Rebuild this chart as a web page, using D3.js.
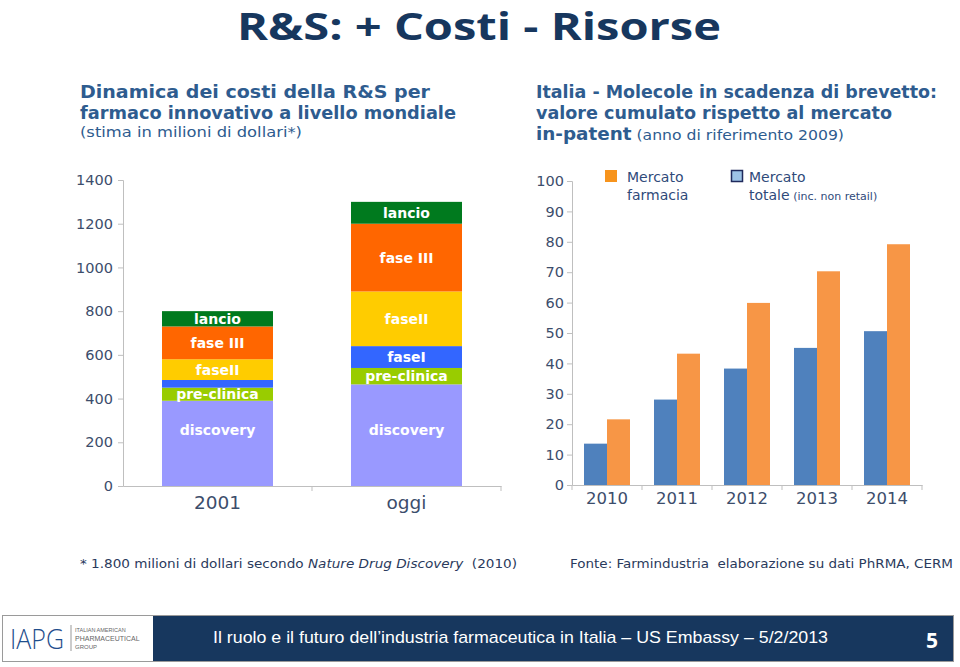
<!DOCTYPE html>
<html><head><meta charset="utf-8">
<script src="https://cdn.jsdelivr.net/npm/d3@7"></script>
<style>
html,body{margin:0;padding:0;background:#fff;}
svg{display:block;}
text{white-space:pre;}
</style></head>
<body>
<svg id="c" width="960" height="667"></svg>
<script>
// ---- data ----
const leftCategories = ["2001", "oggi"];
const phases = ["discovery", "pre-clinica", "faseI", "faseII", "fase III", "lancio"];
const phaseColors = ["#9999ff", "#99cc00", "#3366ff", "#ffcc00", "#ff6600", "#007a1e"];
const cost2001 = [390, 60, 35, 95, 150, 70];
const costOggi = [465, 75, 100, 250, 310, 100];
const leftTicks = [0, 200, 400, 600, 800, 1000, 1200, 1400];

const years = ["2010", "2011", "2012", "2013", "2014"];
const mercatoTotale = [13.6, 28.1, 38.3, 45.1, 50.6];
const mercatoFarmacia = [21.6, 43.2, 59.9, 70.3, 79.2];
const rightTicks = [0, 10, 20, 30, 40, 50, 60, 70, 80, 90, 100];

const svg = d3.select("#c");
const FONT = "'DejaVu Sans', Verdana, sans-serif";
const tickColor = "#3c4d6b";
const axisColor = "#bfbfbf";

// ---- title ----
svg.append("text").attr("x", 479).attr("y", 40).attr("text-anchor", "middle")
  .attr("font-family", "'Open Sans', sans-serif").attr("font-weight", 700)
  .attr("font-size", 38).attr("fill", "#17375e")
  .attr("textLength", 484).attr("lengthAdjust", "spacingAndGlyphs")
  .text("R&S: + Costi - Risorse");

// ---- subtitles ----
const subColor = "#2e5c8f";
function sub(x, y, parts, len) {
  const t = svg.append("text").attr("x", x).attr("y", y)
    .attr("font-family", FONT).attr("fill", subColor);
  parts.forEach(p => t.append("tspan").attr("font-size", p[1]).attr("font-weight", p[2]).text(p[0]));
  if (len) t.attr("textLength", len).attr("lengthAdjust", "spacingAndGlyphs");
}
sub(80, 98, [["Dinamica dei costi della R&S per", 17, 600]], 350);
sub(80, 119, [["farmaco innovativo a livello mondiale", 17, 600]], 376);
sub(80, 137, [["(stima in milioni di dollari*)", 14.5, 400]], 222);
sub(536, 98, [["Italia - Molecole in scadenza di brevetto:", 17, 600]], 401);
sub(536, 119, [["valore cumulato rispetto al mercato", 17, 600]], 356);
sub(536, 140, [["in-patent", 17, 600], [" (anno di riferimento 2009)", 14.5, 400]], 308);

// ---- left chart ----
const yL = d3.scaleLinear().domain([0, 1400]).range([486, 180]);
const xL = d3.scaleBand().domain(leftCategories).range([123, 501]).paddingInner(0).paddingOuter(0);
const barW = 111;

const gL = svg.append("g");
const yAxisL = d3.axisLeft(yL).tickValues(leftTicks).tickSize(5).tickFormat(d3.format("d"));
const gyL = gL.append("g").attr("transform", "translate(123,0)").call(yAxisL);
gyL.select(".domain").attr("stroke", axisColor);
gyL.selectAll(".tick line").attr("stroke", axisColor);
gyL.selectAll(".tick text").attr("font-family", FONT).attr("font-size", 14.5).attr("fill", tickColor).attr("x", -10);

const stacks = [cost2001, costOggi];
stacks.forEach((vals, i) => {
  const cx = xL(leftCategories[i]) + xL.bandwidth() / 2;
  let acc = 0;
  vals.forEach((v, j) => {
    const y0 = yL(acc), y1 = yL(acc + v);
    gL.append("rect").attr("x", cx - barW / 2).attr("width", barW)
      .attr("y", y1).attr("height", y0 - y1).attr("fill", phaseColors[j]);
    if (v >= 50) {
      const ly = j === 0 ? yL(255) : (y0 + y1) / 2;
      gL.append("text").attr("x", cx).attr("y", ly).attr("dy", "0.36em")
        .attr("text-anchor", "middle").attr("font-family", FONT).attr("font-weight", 700)
        .attr("font-size", 14).attr("fill", "#fff").text(phases[j]);
    }
    acc += v;
  });
});
const gxL = gL.append("g").attr("transform", "translate(0,486)").call(d3.axisBottom(xL).tickSize(0).tickFormat(""));
gxL.select(".domain").attr("stroke", axisColor);
[xL.range()[0] + xL.bandwidth(), xL.range()[1]].forEach(x => {
  gL.append("line").attr("x1", x).attr("x2", x).attr("y1", 486).attr("y2", 491).attr("stroke", axisColor);
});
leftCategories.forEach(c => {
  gL.append("text").attr("x", xL(c) + xL.bandwidth() / 2).attr("y", 509).attr("text-anchor", "middle")
    .attr("font-family", FONT).attr("font-size", 18.5).attr("fill", tickColor).text(c);
});

// ---- right chart ----
const yR = d3.scaleLinear().domain([0, 100]).range([485, 181]);
const xR = d3.scaleBand().domain(years).range([572, 922]);
const groupW = 46;
const xSub = d3.scaleBand().domain(["totale", "farmacia"]).range([0, groupW]);
const gR = svg.append("g");
const gyR = gR.append("g").attr("transform", "translate(572,0)").call(d3.axisLeft(yR).tickValues(rightTicks).tickSize(5));
gyR.select(".domain").attr("stroke", axisColor);
gyR.selectAll(".tick line").attr("stroke", axisColor);
gyR.selectAll(".tick text").attr("font-family", FONT).attr("font-size", 14.5).attr("fill", tickColor).attr("x", -8);

years.forEach((yr, i) => {
  const gx = xR(yr) + (xR.bandwidth() - groupW) / 2;
  gR.append("rect").attr("x", gx + xSub("totale")).attr("width", xSub.bandwidth())
    .attr("y", yR(mercatoTotale[i])).attr("height", yR(0) - yR(mercatoTotale[i])).attr("fill", "#4f81bd");
  gR.append("rect").attr("x", gx + xSub("farmacia")).attr("width", xSub.bandwidth())
    .attr("y", yR(mercatoFarmacia[i])).attr("height", yR(0) - yR(mercatoFarmacia[i])).attr("fill", "#f79646");
});
const gxR = gR.append("g").attr("transform", "translate(0,485)").call(d3.axisBottom(xR).tickSize(0).tickFormat(""));
gxR.select(".domain").attr("stroke", axisColor);
years.forEach(yr => {
  const x = xR(yr) + xR.bandwidth();
  gR.append("line").attr("x1", x).attr("x2", x).attr("y1", 485).attr("y2", 490).attr("stroke", axisColor);
  gR.append("text").attr("x", xR(yr) + xR.bandwidth() / 2).attr("y", 504).attr("text-anchor", "middle")
    .attr("font-family", FONT).attr("font-size", 16.5).attr("fill", tickColor).text(yr);
});
gR.append("line").attr("x1", 572).attr("x2", 572).attr("y1", 485).attr("y2", 490).attr("stroke", axisColor);

// legend
const legColor = "#2f4a7a";
gR.append("rect").attr("x", 605).attr("y", 170).attr("width", 12).attr("height", 12).attr("fill", "#f7941d");
gR.append("text").attr("x", 627).attr("y", 182).attr("font-family", FONT).attr("font-size", 14).attr("fill", legColor).text("Mercato");
gR.append("text").attr("x", 627).attr("y", 200).attr("font-family", FONT).attr("font-size", 14).attr("fill", legColor).text("farmacia");
gR.append("rect").attr("x", 731.5).attr("y", 170.5).attr("width", 11).attr("height", 11).attr("fill", "#9dc3e6").attr("stroke", "#1f2a5c").attr("stroke-width", 1.5);
gR.append("text").attr("x", 749).attr("y", 182).attr("font-family", FONT).attr("font-size", 14).attr("fill", legColor).text("Mercato");
const tl = gR.append("text").attr("x", 749).attr("y", 200).attr("font-family", FONT).attr("fill", legColor);
tl.append("tspan").attr("font-size", 14).text("totale");
tl.append("tspan").attr("font-size", 11).text(" (inc. non retail)");

// ---- footnotes ----
const fn = svg.append("text").attr("x", 80).attr("y", 568).attr("font-family", FONT).attr("font-size", 13).attr("fill", "#2a3a5c")
  .attr("textLength", 437).attr("lengthAdjust", "spacingAndGlyphs");
fn.append("tspan").text("* 1.800 milioni di dollari secondo ");
fn.append("tspan").attr("font-style", "italic").text("Nature Drug Discovery");
fn.append("tspan").text("  (2010)");
svg.append("text").attr("x", 570).attr("y", 568).attr("font-family", FONT).attr("font-size", 13).attr("fill", "#2a3a5c")
  .attr("textLength", 383).attr("lengthAdjust", "spacingAndGlyphs")
  .text("Fonte: Farmindustria  elaborazione su dati PhRMA, CERM");

// ---- footer ----
svg.append("rect").attr("x", 2.5).attr("y", 615.5).attr("width", 951).attr("height", 46).attr("fill", "#fff").attr("stroke", "#9a9a9a");
svg.append("rect").attr("x", 153).attr("y", 616).attr("width", 800).attr("height", 45).attr("fill", "#17375e");
svg.append("text").attr("x", 10).attr("y", 649).attr("font-family", "'Open Sans', sans-serif").attr("font-weight", 300)
  .attr("font-size", 28).attr("fill", "#1f4e8c").attr("textLength", 54).attr("lengthAdjust", "spacingAndGlyphs").text("IAPG");
svg.append("line").attr("x1", 71).attr("x2", 71).attr("y1", 625).attr("y2", 651).attr("stroke", "#999");
[["ITALIAN AMERICAN", 632, 5.5], ["PHARMACEUTICAL", 641, 7], ["GROUP", 649, 6]].forEach(r => {
  svg.append("text").attr("x", 75).attr("y", r[1]).attr("font-family", "'Liberation Sans', Arial, sans-serif")
    .attr("font-size", r[2]).attr("fill", "#666").text(r[0]);
});
svg.append("text").attr("x", 213).attr("y", 643).attr("font-family", "'Liberation Sans', Arial, sans-serif")
  .attr("font-size", 17).attr("fill", "#fff").attr("textLength", 615).attr("lengthAdjust", "spacingAndGlyphs")
  .text("Il ruolo e il futuro dell’industria farmaceutica in Italia – US Embassy – 5/2/2013");
svg.append("text").attr("x", 932).attr("y", 648).attr("text-anchor", "middle").attr("font-family", "'Open Sans', sans-serif")
  .attr("font-weight", 700).attr("font-size", 21).attr("fill", "#fff").text("5");
</script>
</body></html>
